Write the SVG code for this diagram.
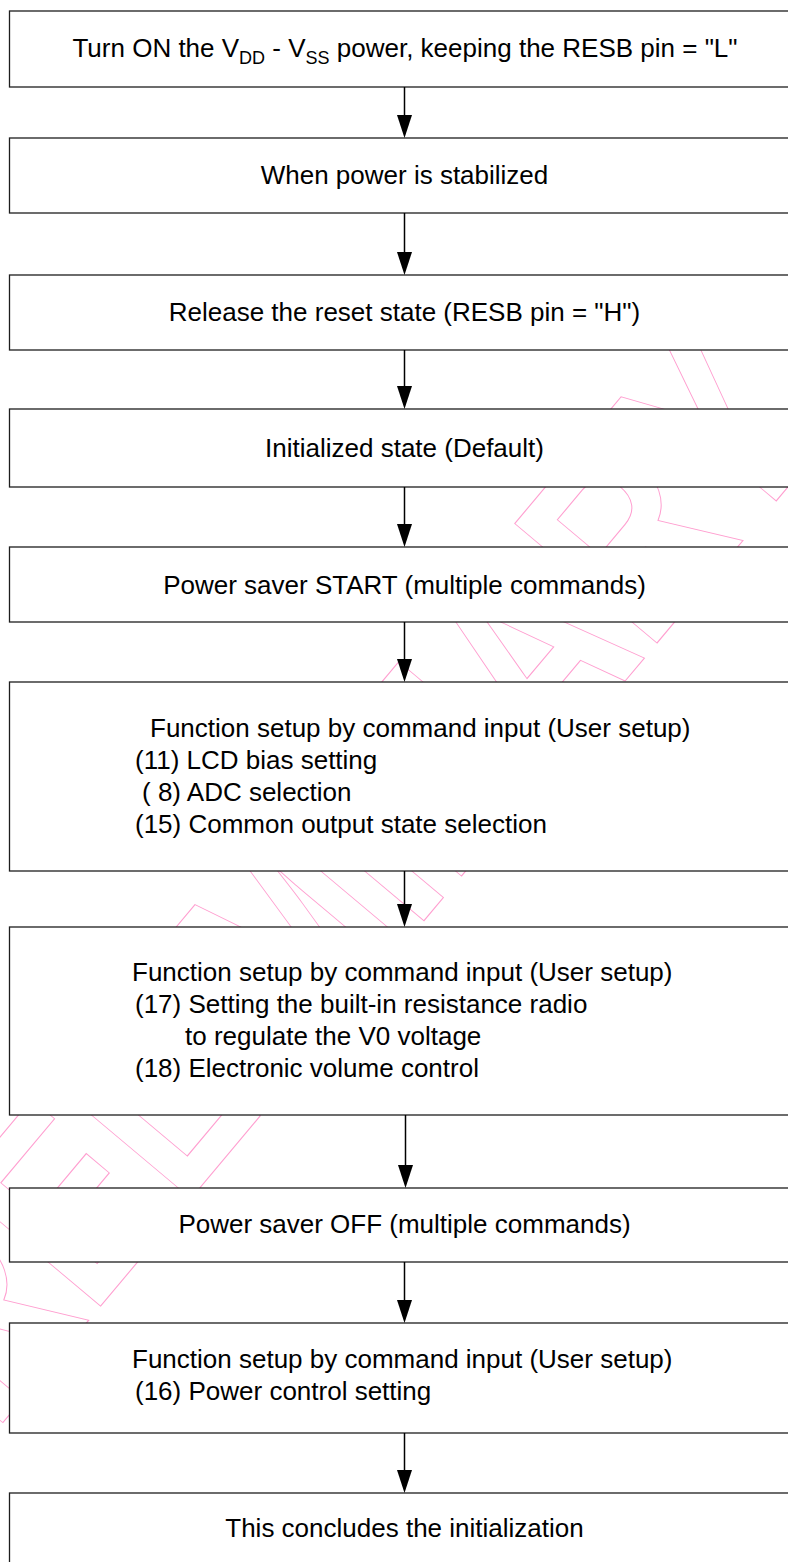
<svg xmlns="http://www.w3.org/2000/svg" width="788" height="1562" viewBox="0 0 788 1562">
<style>
.box{fill:#ffffff;stroke:#1e1e1e;stroke-width:1.3}
.t{font-family:"Liberation Sans",Arial,sans-serif;font-size:26px;fill:#000000}
.c{text-anchor:middle}
.wm{font-family:"Liberation Sans",Arial,sans-serif;font-weight:bold;font-size:270px;fill:none;stroke:#ff9fd0;stroke-width:1;vector-effect:non-scaling-stroke}
.ln{stroke:#000000;stroke-width:1.5;fill:none}
.ah{fill:#000000}
</style>
<rect x="0" y="0" width="788" height="1562" fill="#ffffff"/>
<g id="watermark">
<text class="wm" transform="translate(-96.5,1541) rotate(-50) scale(0.78,1)">PRELIMINARY</text>
</g>
<g id="n1"><rect class="box" x="9.5" y="11" width="800" height="76"/>
<text class="t c" x="405" y="57" font-size="26.4">Turn ON the V<tspan font-size="18" dy="7">DD</tspan><tspan dy="-7"> - V</tspan><tspan font-size="18" dy="7">SS</tspan><tspan dy="-7"> power, keeping the RESB pin = "L"</tspan></text></g>
<g id="n2"><rect class="box" x="9.5" y="138" width="800" height="75"/>
<text class="t c" x="404.5" y="184">When power is stabilized</text></g>
<g id="n3"><rect class="box" x="9.5" y="275" width="800" height="75"/>
<text class="t c" x="404.5" y="321">Release the reset state (RESB pin = "H")</text></g>
<g id="n4"><rect class="box" x="9.5" y="409" width="800" height="78"/>
<text class="t c" x="404.5" y="457">Initialized state (Default)</text></g>
<g id="n5"><rect class="box" x="9.5" y="547" width="800" height="75"/>
<text class="t c" x="404.5" y="594">Power saver START (multiple commands)</text></g>
<g id="n6"><rect class="box" x="9.5" y="682" width="800" height="189"/>
<text class="t" x="150" y="737">Function setup by command input (User setup)</text>
<text class="t" x="135" y="769">(11) LCD bias setting</text>
<text class="t" x="142" y="801">( 8) ADC selection</text>
<text class="t" x="135" y="833">(15) Common output state selection</text></g>
<g id="n7"><rect class="box" x="9.5" y="927" width="800" height="188"/>
<text class="t" x="132" y="981">Function setup by command input (User setup)</text>
<text class="t" x="135" y="1013">(17) Setting the built-in resistance radio</text>
<text class="t" x="185" y="1045">to regulate the V0 voltage</text>
<text class="t" x="135" y="1077">(18) Electronic volume control</text></g>
<g id="n8"><rect class="box" x="9.5" y="1188" width="800" height="74"/>
<text class="t c" x="404.5" y="1233">Power saver OFF (multiple commands)</text></g>
<g id="n9"><rect class="box" x="9.5" y="1323" width="800" height="110"/>
<text class="t" x="132" y="1368">Function setup by command input (User setup)</text>
<text class="t" x="135" y="1400">(16) Power control setting</text></g>
<g id="n10"><rect class="box" x="9.5" y="1493" width="800" height="90"/>
<text class="t c" x="404.5" y="1537">This concludes the initialization</text></g>
<g id="connectors">
<line class="ln" x1="404.5" y1="87" x2="404.5" y2="116"/><polygon class="ah" points="397,115 412,115 404.5,138"/>
<line class="ln" x1="404.5" y1="213" x2="404.5" y2="253"/><polygon class="ah" points="397,252 412,252 404.5,275"/>
<line class="ln" x1="404.5" y1="350" x2="404.5" y2="387"/><polygon class="ah" points="397,386 412,386 404.5,409"/>
<line class="ln" x1="404.5" y1="487" x2="404.5" y2="525"/><polygon class="ah" points="397,524 412,524 404.5,547"/>
<line class="ln" x1="404.5" y1="622" x2="404.5" y2="660"/><polygon class="ah" points="397,659 412,659 404.5,682"/>
<line class="ln" x1="404.5" y1="871" x2="404.5" y2="905"/><polygon class="ah" points="397,904 412,904 404.5,927"/>
<line class="ln" x1="405.5" y1="1115" x2="405.5" y2="1166"/><polygon class="ah" points="398,1165 413,1165 405.5,1188"/>
<line class="ln" x1="404.5" y1="1262" x2="404.5" y2="1301"/><polygon class="ah" points="397,1300 412,1300 404.5,1323"/>
<line class="ln" x1="404.5" y1="1433" x2="404.5" y2="1471"/><polygon class="ah" points="397,1470 412,1470 404.5,1493"/>
</g>
</svg>
